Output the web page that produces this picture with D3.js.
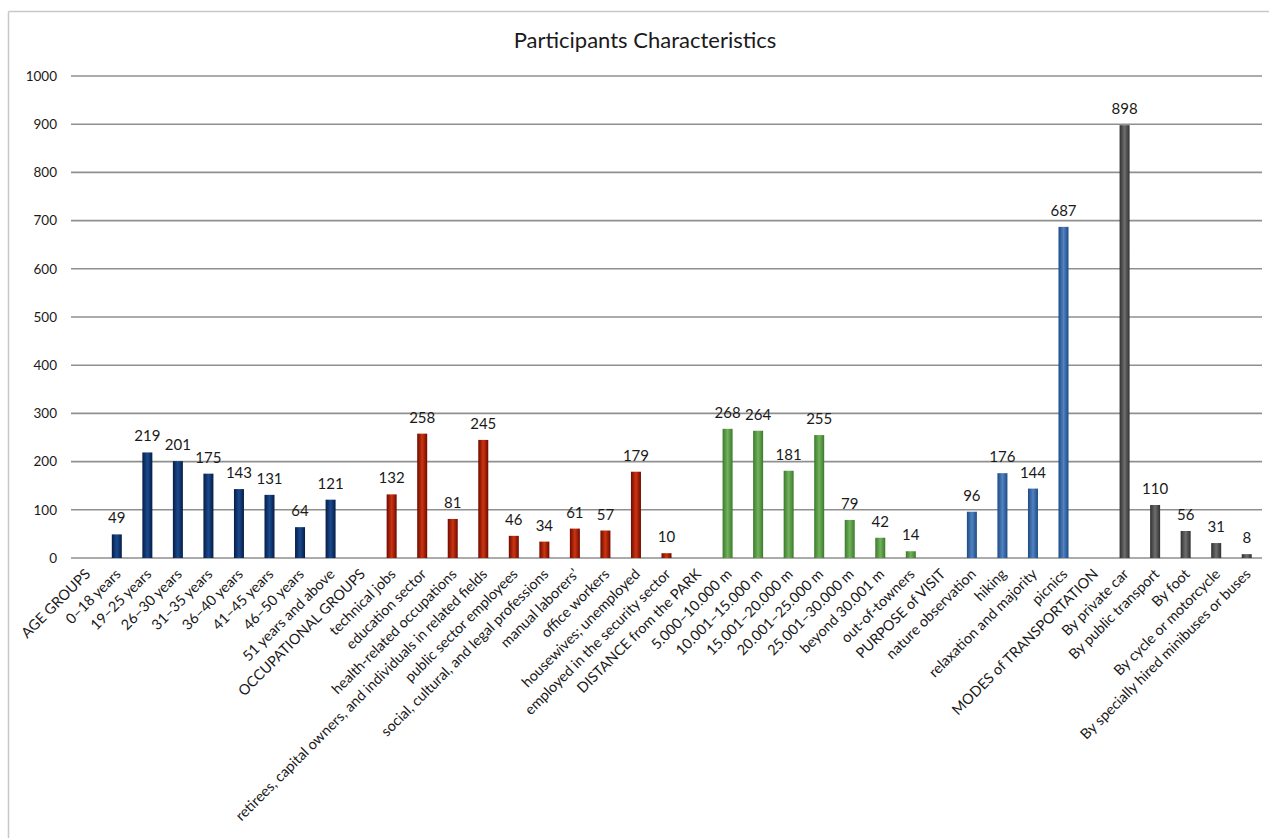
<!DOCTYPE html>
<html>
<head>
<meta charset="utf-8">
<script src="https://cdn.jsdelivr.net/npm/d3@7"></script>
<style>
  html, body { margin: 0; padding: 0; background: #fff; }
  svg { display: block; }
  text { font-family: Lato, "Open Sans", sans-serif; fill: #1a1a1a; }
</style>
</head>
<body>
<svg id="chart" width="1269" height="838"></svg>
<script>
const title = "Participants Characteristics";

const categories = [
  "AGE GROUPS", "0–18 years", "19–25 years", "26–30 years", "31–35 years", "36–40 years",
  "41–45 years", "46–50 years", "51 years and above",
  "OCCUPATIONAL GROUPS", "technical jobs", "education sector", "health-related occupations",
  "retirees, capital owners, and individuals in related fields", "public sector employees",
  "social, cultural, and legal professions", "manual laborers’", "office workers",
  "housewives; unemployed", "employed in the security sector",
  "DISTANCE from the PARK", "5.000–10.000 m", "10.001–15.000 m", "15.001–20.000 m",
  "20.001–25.000 m", "25.001–30.000 m", "beyond 30.001 m", "out-of-towners",
  "PURPOSE of VISIT", "nature observation", "hiking", "relaxation and majority", "picnics",
  "MODES of TRANSPORTATION", "By private car", "By public transport", "By foot",
  "By cycle or motorcycle", "By specially hired minibuses or buses"
];

const values = [
  null, 49, 219, 201, 175, 143, 131, 64, 121,
  null, 132, 258, 81, 245, 46, 34, 61, 57, 179, 10,
  null, 268, 264, 181, 255, 79, 42, 14,
  null, 96, 176, 144, 687,
  null, 898, 110, 56, 31, 8
];

const groups = [
  "age", "age", "age", "age", "age", "age", "age", "age", "age",
  "occ", "occ", "occ", "occ", "occ", "occ", "occ", "occ", "occ", "occ", "occ",
  "dist", "dist", "dist", "dist", "dist", "dist", "dist", "dist",
  "purp", "purp", "purp", "purp", "purp",
  "mode", "mode", "mode", "mode", "mode", "mode"
];

const yTicks = [0, 100, 200, 300, 400, 500, 600, 700, 800, 900, 1000];

const palette = {
  age:  { edge: "#061c45", mid: "#1a4a8e" },
  occ:  { edge: "#6e0a00", mid: "#cc3510" },
  dist: { edge: "#3b7a2c", mid: "#72b25c" },
  purp: { edge: "#1c4a85", mid: "#5282c0" },
  mode: { edge: "#303030", mid: "#6e6e6e" }
};

const svg = d3.select("#chart");
const W = 1269, H = 838;
const plot = { left: 71, right: 1262, top: 76, bottom: 558 };

// outer frame (top and left edges visible)
svg.append("line").attr("x1", 8.5).attr("x2", W).attr("y1", 11.5).attr("y2", 11.5)
  .attr("stroke", "#c8c8c8").attr("stroke-width", 1.5);
svg.append("line").attr("x1", 8.5).attr("x2", 8.5).attr("y1", 11.5).attr("y2", H)
  .attr("stroke", "#c8c8c8").attr("stroke-width", 1.5);

// gradients
const defs = svg.append("defs");
Object.entries(palette).forEach(([k, c]) => {
  const g = defs.append("linearGradient").attr("id", "grad-" + k)
    .attr("x1", "0%").attr("x2", "100%").attr("y1", "0%").attr("y2", "0%");
  g.append("stop").attr("offset", "0%").attr("stop-color", c.edge);
  g.append("stop").attr("offset", "50%").attr("stop-color", c.mid);
  g.append("stop").attr("offset", "100%").attr("stop-color", c.edge);
});

const x = d3.scaleBand().domain(categories).range([plot.left, plot.right]).padding(0);
const y = d3.scaleLinear().domain([0, 1000]).range([plot.bottom, plot.top]);

// title
svg.append("text").attr("x", 645).attr("y", 48).attr("text-anchor", "middle")
  .style("font-size", "22px").text(title);

// gridlines + y axis labels
const yAxis = d3.axisLeft(y).tickValues(yTicks).tickSize(0).tickPadding(14)
  .tickFormat(d3.format("d"));
const ya = svg.append("g").attr("transform", `translate(${plot.left},0)`).call(yAxis);
ya.select(".domain").remove();
ya.selectAll("text").style("font-size", "13.5px").style("font-family", "Lato, 'Open Sans', sans-serif")
  .attr("fill", "#1a1a1a");

svg.append("g").selectAll("line").data(yTicks).join("line")
  .attr("x1", plot.left).attr("x2", plot.right)
  .attr("y1", d => y(d)).attr("y2", d => y(d))
  .attr("stroke", "#8f8f8f").attr("stroke-width", 1.6);

// bars
const data = categories.map((c, i) => ({ c, v: values[i], g: groups[i] }));
const bw = 10;
const barData = data.filter(d => d.v !== null);

svg.append("g").selectAll("rect").data(barData).join("rect")
  .attr("x", d => x(d.c) + x.bandwidth() / 2 - bw / 2)
  .attr("width", bw)
  .attr("y", d => y(d.v))
  .attr("height", d => y(0) - y(d.v))
  .attr("fill", d => `url(#grad-${d.g})`);

// value labels
svg.append("g").selectAll("text").data(barData).join("text")
  .attr("x", d => x(d.c) + x.bandwidth() / 2)
  .attr("y", d => y(d.v) - 11)
  .attr("text-anchor", "middle")
  .style("font-size", "15px")
  .text(d => d.v);

// x axis category labels (rotated -45)
const xAxis = d3.axisBottom(x).tickSize(0).tickPadding(0);
const xa = svg.append("g").attr("transform", `translate(0,${plot.bottom})`).call(xAxis);
xa.select(".domain").remove();
xa.selectAll("text")
  .style("font-size", "14.5px").style("font-family", "Lato, 'Open Sans', sans-serif")
  .attr("fill", "#1a1a1a")
  .attr("text-anchor", "end")
  .attr("dy", "0")
  .attr("transform", "translate(5,17) rotate(-45)");
</script>
</body>
</html>
